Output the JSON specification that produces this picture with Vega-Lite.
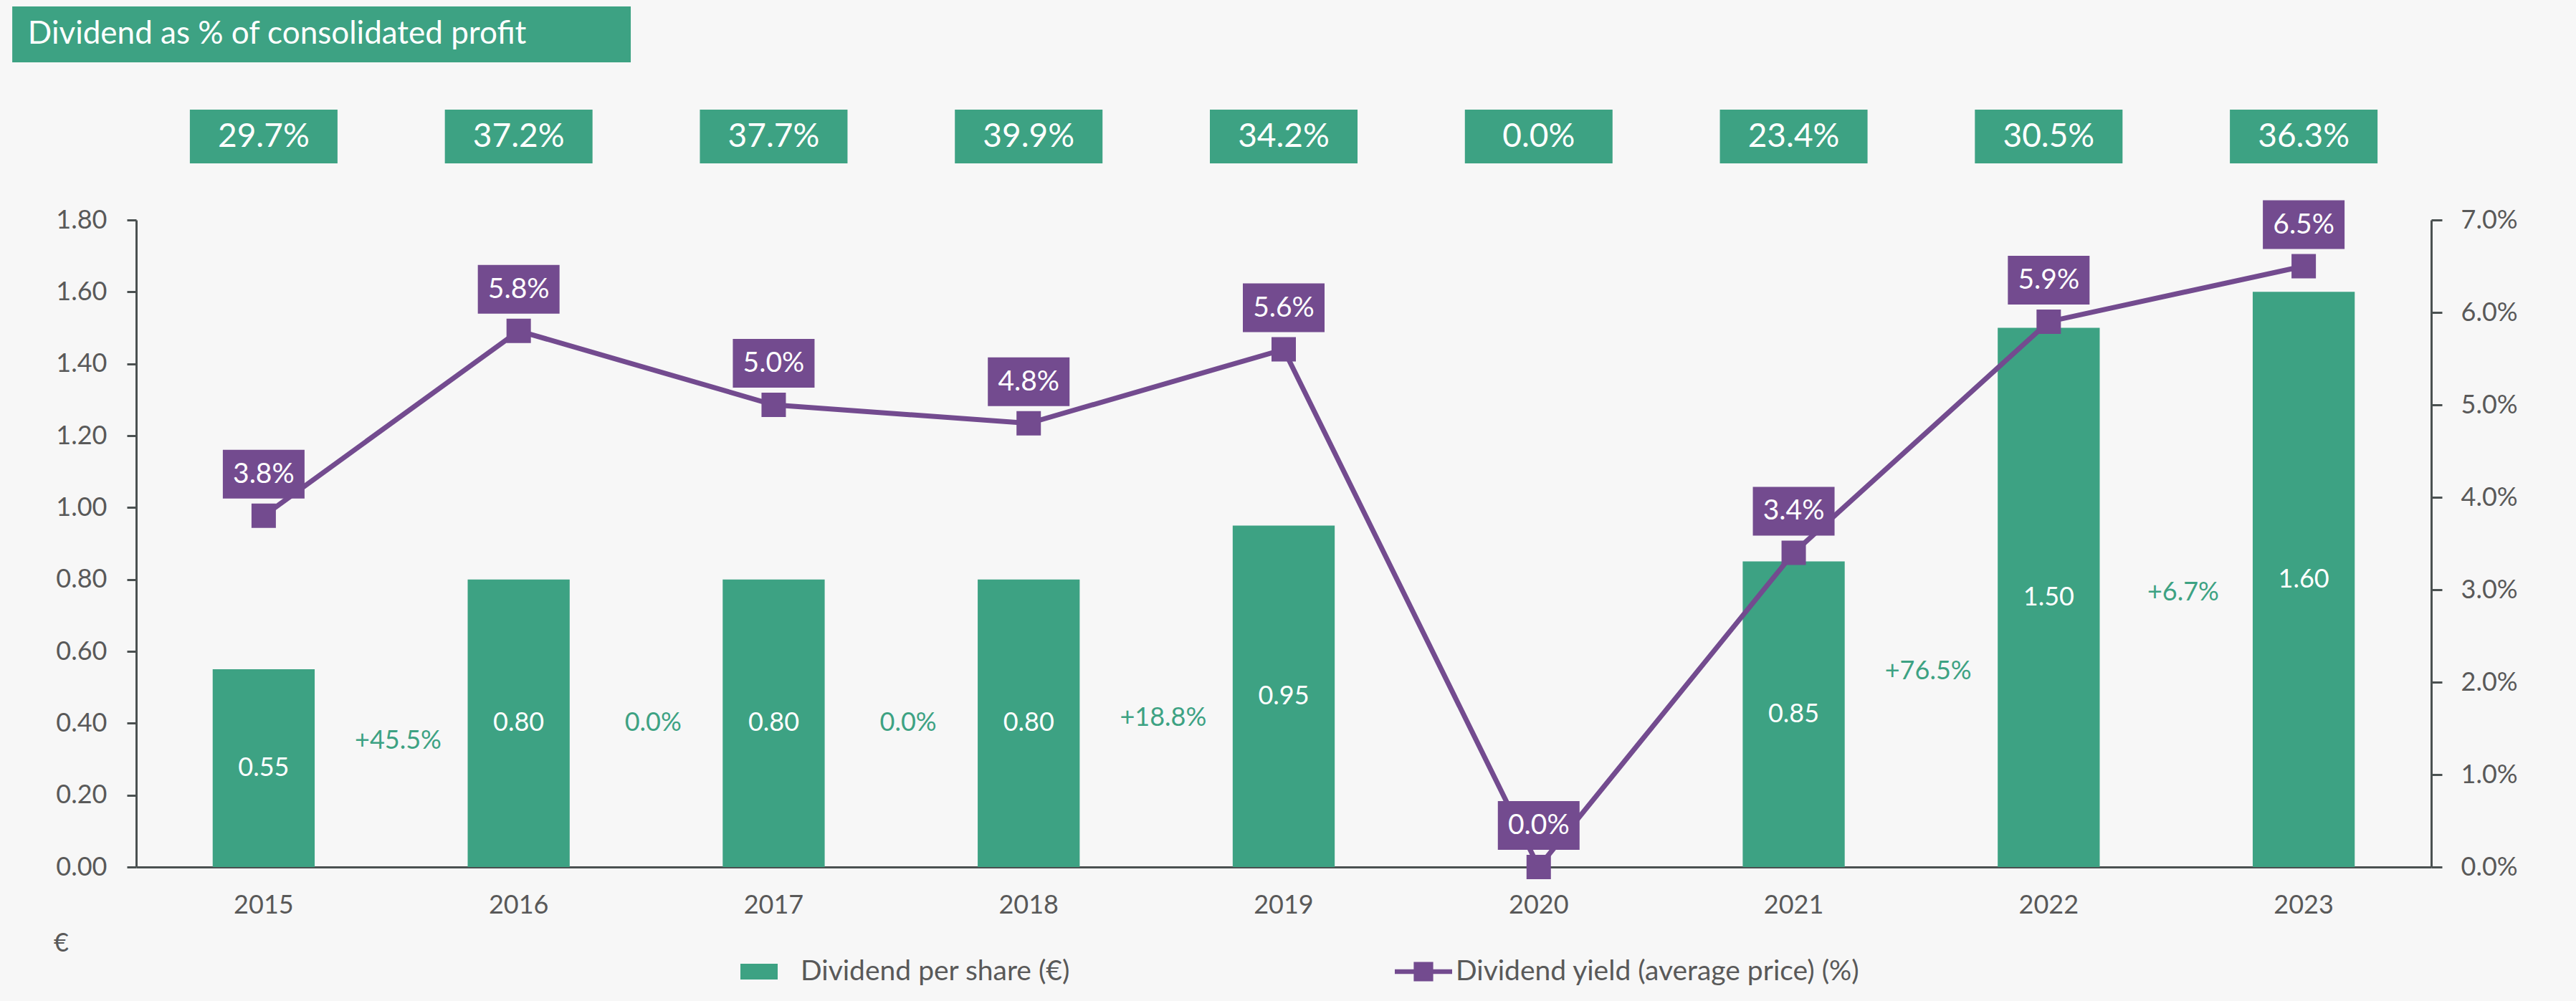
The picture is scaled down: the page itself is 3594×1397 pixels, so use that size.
{
  "$schema": "https://vega.github.io/schema/vega-lite/v6.json",
  "width": 3202,
  "height": 903,
  "autosize": {"type": "none"},
  "padding": {"left": 190, "top": 307, "right": 202, "bottom": 187},
  "background": "#f7f7f7",
  "config": {"view": {"stroke": null}, "font": "Lato"},
  "datasets": {
    "rows": [
      {"year": "2015", "dps": 0.55, "yield": 0.038, "payout": 0.297, "growth": null, "growth_level": null},
      {"year": "2016", "dps": 0.80, "yield": 0.058, "payout": 0.372, "growth": "+45.5%", "growth_level": 0.35},
      {"year": "2017", "dps": 0.80, "yield": 0.050, "payout": 0.377, "growth": "0.0%", "growth_level": 0.40},
      {"year": "2018", "dps": 0.80, "yield": 0.048, "payout": 0.399, "growth": "0.0%", "growth_level": 0.40},
      {"year": "2019", "dps": 0.95, "yield": 0.056, "payout": 0.342, "growth": "+18.8%", "growth_level": 0.415},
      {"year": "2020", "dps": 0.00, "yield": 0.000, "payout": 0.000, "growth": null, "growth_level": null},
      {"year": "2021", "dps": 0.85, "yield": 0.034, "payout": 0.234, "growth": null, "growth_level": null},
      {"year": "2022", "dps": 1.50, "yield": 0.059, "payout": 0.305, "growth": "+76.5%", "growth_level": 0.545},
      {"year": "2023", "dps": 1.60, "yield": 0.065, "payout": 0.363, "growth": "+6.7%", "growth_level": 0.763}
    ],
    "header": [{"title": "Dividend as % of consolidated profit"}]
  },
  "layer": [
    {
      "data": {"name": "header"},
      "layer": [
        {
          "mark": {"type": "rect", "color": "#3DA283"},
          "encoding": {
            "x": {"datum": -0.054, "type": "quantitative", "scale": {"domain": [0, 1], "nice": false, "zero": false}, "axis": null},
            "x2": {"datum": 0.2155},
            "y": {"datum": 1.33, "type": "quantitative", "scale": {"domain": [0, 1], "nice": false, "zero": false}, "axis": null},
            "y2": {"datum": 1.2436}
          }
        },
        {
          "mark": {"type": "text", "align": "left", "baseline": "middle", "color": "white", "font": "Lato", "fontSize": 44},
          "encoding": {
            "x": {"datum": -0.0472, "type": "quantitative"},
            "y": {"datum": 1.2868, "type": "quantitative"},
            "text": {"field": "title"}
          }
        }
      ]
    },
    {
      "data": {"name": "rows"},
      "layer": [
        {
          "encoding": {
            "x": {
              "field": "year", "type": "ordinal",
              "scale": {"type": "band", "paddingInner": 0.6, "paddingOuter": 0.3},
              "axis": {"orient": "bottom", "title": null, "labelAngle": 0, "ticks": false, "tickSize": 0, "labelPadding": 36, "domainColor": "#4B5151", "domainWidth": 3, "labelFont": "Lato", "labelFontSize": 36, "labelColor": "#595959", "grid": false}
            }
          },
          "layer": [
            {
              "mark": {"type": "bar"},
              "encoding": {
                "y": {
                  "field": "dps", "type": "quantitative",
                  "scale": {"domain": [0, 1.8], "nice": false, "zero": true},
                  "axis": {"orient": "left", "values": [0, 0.2, 0.4, 0.6, 0.8, 1, 1.2, 1.4, 1.6, 1.8], "format": ".2f", "grid": false, "domainColor": "#4B5151", "domainWidth": 3, "tickColor": "#4B5151", "tickWidth": 3, "tickSize": 13, "labelPadding": 28, "labelFont": "Lato", "labelFontSize": 36, "labelColor": "#595959", "labelOverlap": false, "title": "€", "titleAngle": 0, "titleX": -105, "titleY": 1009, "titleAlign": "center", "titleBaseline": "middle", "titleFont": "Lato", "titleFontSize": 36, "titleFontWeight": "normal", "titleColor": "#595959"}
                },
                "color": {
                  "datum": "Dividend per share (€)", "type": "nominal",
                  "scale": {"domain": ["Dividend per share (€)", "Dividend yield (average price) (%)"], "range": ["#3DA283", "#734B8F"]},
                  "legend": {
                    "title": null, "orient": "none", "legendX": 842, "legendY": 1009, "direction": "horizontal",
                    "symbolSize": 6400, "labelOffset": 5, "columnPadding": 452, "padding": 0,
                    "labelFont": "Lato", "labelFontSize": 39, "labelColor": "#595959", "labelLimit": 0,
                    "encode": {
                      "symbols": {
                        "update": {
                          "shape": {"signal": "datum.value === 'Dividend per share (€)' ? 'M-0.975,-0.275H0.325V0.275H-0.975Z' : 'M-1,-0.08H1V0.08H-1ZM-0.34,-0.34H0.34V0.34H-0.34Z'"},
                          "fill": {"scale": "color", "field": "value"},
                          "stroke": {"value": "transparent"},
                          "strokeWidth": {"value": 0},
                          "size": {"value": 6400},
                          "opacity": {"value": 1},
                          "fillOpacity": {"value": 1}
                        }
                      }
                    }
                  }
                }
              }
            },
            {
              "transform": [{"filter": "datum.growth != null"}],
              "mark": {"type": "text", "font": "Lato", "fontSize": 36, "color": "#3DA283", "dx": -97, "baseline": "middle"},
              "encoding": {
                "x": {"field": "year", "type": "ordinal", "bandPosition": 0},
                "y": {"field": "growth_level", "type": "quantitative"},
                "text": {"field": "growth"}
              }
            },
            {
              "mark": {"type": "bar", "width": 206, "color": "#3DA283"},
              "encoding": {
                "y": {"datum": 2.107, "type": "quantitative"},
                "y2": {"datum": 1.9575}
              }
            },
            {
              "mark": {"type": "text", "color": "white", "font": "Lato", "fontSize": 46, "baseline": "middle"},
              "encoding": {
                "y": {"datum": 2.032, "type": "quantitative"},
                "text": {"field": "payout", "type": "quantitative", "format": ".1%"}
              }
            }
          ]
        },
        {
          "transform": [{"filter": "datum.dps > 0"}],
          "mark": {"type": "text", "color": "white", "font": "Lato", "fontSize": 36, "baseline": "middle"},
          "encoding": {
            "x": {"field": "year", "type": "ordinal"},
            "y": {"field": "dps", "type": "quantitative", "scale": {"domain": [0, 3.6], "nice": false}, "axis": null},
            "text": {"field": "dps", "type": "quantitative", "format": ".2f"}
          }
        },
        {
          "encoding": {
            "x": {"field": "year", "type": "ordinal"},
            "y": {
              "field": "yield", "type": "quantitative",
              "scale": {"domain": [0, 0.07], "nice": false},
              "axis": {"orient": "right", "values": [0, 0.01, 0.02, 0.03, 0.04, 0.05, 0.06, 0.07], "format": ".1%", "title": null, "grid": false, "domainColor": "#4B5151", "domainWidth": 3, "tickColor": "#4B5151", "tickWidth": 3, "tickSize": 15, "labelPadding": 26, "labelFont": "Lato", "labelFontSize": 36, "labelColor": "#595959", "labelOverlap": false}
            }
          },
          "layer": [
            {
              "mark": {"type": "line", "strokeWidth": 7},
              "encoding": {"color": {"datum": "Dividend yield (average price) (%)", "type": "nominal"}}
            },
            {
              "mark": {"type": "point", "shape": "square", "filled": true, "size": 1156, "opacity": 1},
              "encoding": {"color": {"datum": "Dividend yield (average price) (%)", "type": "nominal"}}
            },
            {
              "mark": {"type": "point", "shape": "M-1,-1.614H1V-0.421H-1Z", "filled": true, "size": 12996, "color": "#734B8F", "opacity": 1},
              "encoding": {}
            },
            {
              "mark": {"type": "text", "dy": -58, "color": "white", "font": "Lato", "fontSize": 39, "baseline": "middle"},
              "encoding": {"text": {"field": "yield", "type": "quantitative", "format": ".1%"}}
            }
          ]
        }
      ],
      "resolve": {"scale": {"y": "independent"}}
    }
  ],
  "resolve": {"scale": {"x": "independent", "y": "independent"}}
}
